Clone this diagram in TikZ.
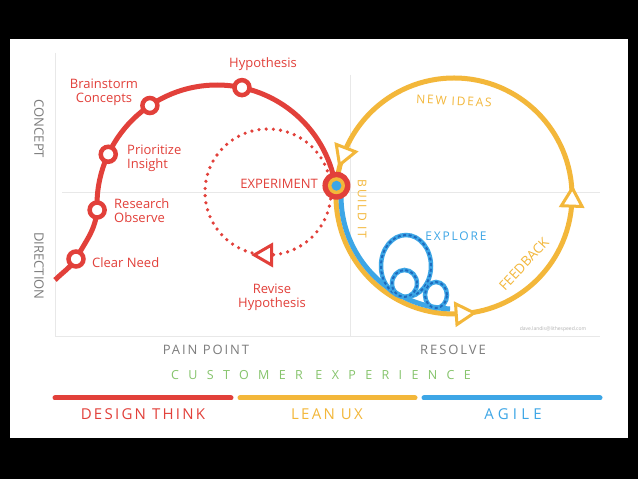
\documentclass[tikz,border=0pt]{standalone}
\usepackage{fontspec}
\setmainfont{Open Sans}
\newfontfamily\trackfont[LetterSpace=15]{Open Sans}
\newfontfamily\widefont[LetterSpace=75]{Open Sans}
\newfontfamily\agilefont[LetterSpace=28]{Open Sans}
\usepackage{tikz}
\usetikzlibrary{calc,shapes.geometric}
\definecolor{designred}{HTML}{E2403A}
\definecolor{leanyellow}{HTML}{F3B73A}
\definecolor{agileblue}{HTML}{3DA6E6}
\definecolor{agiledark}{HTML}{1E6BBE}
\definecolor{custgreen}{HTML}{86C46C}
\definecolor{axisgrey}{HTML}{7C7C7C}
\definecolor{gridgrey}{HTML}{E8E8E8}
\tikzset{%
  >=latex, % arrows
  design/.style={draw=designred, line width=5pt},
  lean/.style={draw=leanyellow, line width=5pt},
  agile/.style={draw=agileblue, line width=5pt},
  gridline/.style={draw=gridgrey, line width=0.8pt},
  stage/.style={circle, draw=designred, line width=4.5pt, fill=white,
    minimum size=15pt, inner sep=0pt},
  flowtip/.style={regular polygon, regular polygon sides=3, fill=white,
    line width=3pt, minimum size=24pt, inner sep=0pt},
  redtext/.style={text=designred, font=\fontsize{13}{14}\selectfont, inner sep=0pt},
  yellowtext/.style={text=leanyellow, font=\trackfont\fontsize{12}{12}\selectfont, inner sep=0pt},
  axislabel/.style={text=axisgrey, font=\trackfont\fontsize{13}{13}\selectfont, inner sep=0pt},
  sidelabel/.style={text=axisgrey, font=\fontsize{13}{13}\selectfont, inner sep=0pt, rotate=-90},
  bartext/.style={font=\trackfont\fontsize{15}{15}\selectfont, inner sep=0pt}
}

\begin{document}
\begin{tikzpicture}[x=1pt,y=1pt]
    \def\Rd{120pt} % design arc radius
    \def\Rx{63pt} % experiment loop radius
    \def\Ry{118pt} % lean loop radius
    \fill[black] (0,0) rectangle (638,479);
    \fill[white] (10,41) rectangle (628,440);

    % grid
    \draw[gridline] (55,426) -- (55,143) -- (600,143);
    \draw[gridline] (62,287) -- (600,287);
    \draw[gridline] (350,404) -- (350,143);

    % revise loop
    \coordinate (rev) at (268,287);
    \draw[design, line width=3.6pt, line cap=round, dash pattern=on 0pt off 7.2pt] (rev) circle (\Rx);
    \node[flowtip, draw=designred, rotate=90, minimum size=23pt] (revtip) at ($(rev)+(268:\Rx)$) {};

    % lean loop
    \coordinate (loop) at (454,283);
    \draw[lean] (loop) circle (\Ry);
    \draw[agile] ($(loop)+(179:113pt)$) arc (179:268:113pt);
    \node[flowtip, draw=leanyellow, rotate=159] (ideastip) at ($(loop)+(159:\Ry)$) {};
    \node[flowtip, draw=leanyellow, rotate=-86] (buildtip) at ($(loop)+(274:\Ry)$) {};
    \node[flowtip, draw=leanyellow, rotate=-2] (feedtip) at ($(loop)+(-2:\Ry)$) {};

    % explore loops
    \foreach \cx/\cy/\rx/\ry in {406/213/25/31, 404.5/195.5/12.5/13.5, 436/184/11/13} {
      \draw[agile, line width=4.5pt] (\cx,\cy) ellipse [x radius=\rx pt, y radius=\ry pt];
      \draw[agiledark, line width=2pt, dash pattern=on 3pt off 2.5pt] (\cx,\cy) ellipse [x radius=\rx pt, y radius=\ry pt];
    }

    % design thinking path
    \coordinate (arcc) at (217,274);
    \coordinate (need0) at (55,199);
    \coordinate (clear) at (76,220);
    \coordinate (research) at ($(arcc)+(182.4:\Rd)$);
    \coordinate (prio) at ($(arcc)+(155:\Rd)$);
    \coordinate (brain) at ($(arcc)+(124:\Rd)$);
    \coordinate (hyp) at ($(arcc)+(78:\Rd)$);
    \coordinate (exp) at ($(loop)+(175:\Ry)$);
    \draw[design] (need0) to[out=45,in=235] (clear) to[out=62,in=265] (research) arc (182.4:9.2:\Rd);
    \foreach \s in {clear,research,prio,brain,hyp} { \node[stage] (\s dot) at (\s) {}; }

    \node[circle, fill=designred, minimum size=28pt, inner sep=0pt] (expdot) at (exp) {};
    \node[circle, fill=leanyellow, minimum size=17pt, inner sep=0pt] (expring) at (exp) {};
    \node[circle, fill=agileblue, minimum size=10pt, inner sep=0pt] (expcore) at (exp) {};

    % labels
    \node[redtext] (hyplabel) at (263,415) {Hypothesis};
    \node[redtext, align=center] (brainlabel) at (104,387) {Brainstorm\\Concepts};
    \node[redtext, align=left, anchor=west] (priolabel) at (127,321) {Prioritize\\Insight};
    \node[redtext, align=left, anchor=west] (researchlabel) at (114,268) {Research\\Observe};
    \node[redtext, anchor=west] (clearlabel) at (92,216) {Clear Need};
    \node[redtext, anchor=east] (explabel) at (318,295) {EXPERIMENT};
    \node[redtext, align=center] (revlabel) at (272,182) {Revise\\Hypothesis};

    \node[yellowtext, rotate=-3] (ideaslabel) at (454,378) {NEW IDEAS};
    \node[yellowtext, rotate=-90] (buildlabel) at (362,270) {BUILD IT};
    \node[text=leanyellow, font=\fontsize{13.5}{13.5}\selectfont, inner sep=0pt, rotate=47] (feedlabel) at (524,215) {FEEDBACK};
    \node[yellowtext, text=agileblue] (explorelabel) at (456,243) {EXPLORE};

    \node[sidelabel] (concept) at (39,350) {CONCEPT};
    \node[sidelabel] (direction) at (39,213) {DIRECTION};
    \node[axislabel] (pain) at (206,129) {PAIN POINT};
    \node[axislabel] (resolve) at (453,129) {RESOLVE};
    \node[text=custgreen, font=\widefont\fontsize{12.5}{12.5}\selectfont, inner sep=0pt] (cx) at (321,104) {CUSTOMER EXPERIENCE};
    \node[text=gray!60, font=\fontsize{5}{5}\selectfont, inner sep=0pt] (credit) at (553,150) {dave.landis@lithespeed.com};

    % methods
    \draw[design, line cap=round] (55,81) -- (231,81);
    \draw[lean, line cap=round] (240,81) -- (415,81);
    \draw[agile, line cap=round] (424,81) -- (600,81);
    \node[bartext, text=designred] (dt) at (143,65) {DESIGN THINK};
    \node[bartext, text=leanyellow] (lux) at (327,65) {LEAN UX};
    \node[bartext, text=agileblue, font=\agilefont\fontsize{15}{15}\selectfont] (ag) at (513,65) {AGILE};
\end{tikzpicture}
\end{document}
